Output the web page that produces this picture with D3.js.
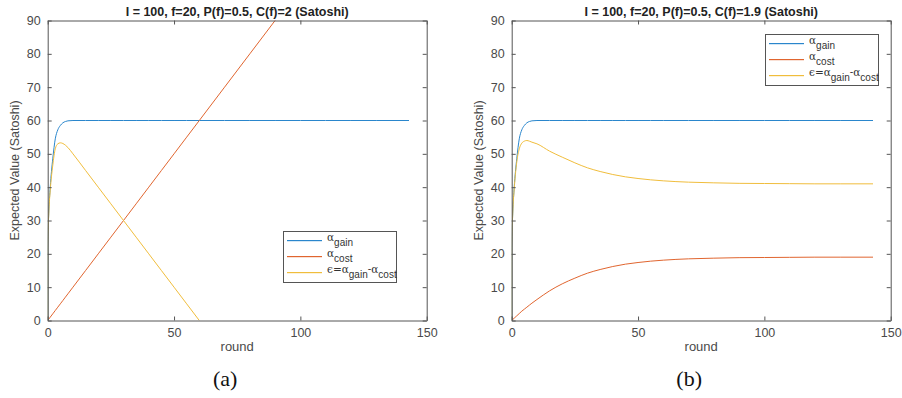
<!DOCTYPE html>
<html>
<head>
<meta charset="utf-8">
<script src="https://cdn.jsdelivr.net/npm/d3@7"></script>
<style>
  body { margin: 0; background: #fff; }
  svg { display: block; }
  text { font-family: "Liberation Sans", Arial, sans-serif; }
</style>
</head>
<body>
<svg id="chart" width="902" height="398"></svg>
<script>
var rounds = [0, 0.02, 0.4, 1, 2, 3, 4, 5, 6, 7, 8, 10, 15, 20, 25, 30, 35, 40, 45, 50,
              55, 60, 70, 80, 90, 100, 110, 120, 130, 143];

// panel (a): C(f)=2
var gainA = [0, 22, 32, 40, 48.5, 54.5, 57.2, 58.5, 59.3, 59.7, 59.9, 60, 60, 60, 60, 60, 60, 60, 60, 60,
             60, 60, 60, 60, 60, 60, 60, 60, 60, 60];
var costA = [0, 0.02, 0.4, 1, 2, 3, 4, 5, 6, 7, 8, 10, 15, 20, 25, 30, 35, 40, 45, 50,
             55, 60, 70, 80, 90, 100, 110, 120, 130, 143];
var epsA  = [0, 22, 31.6, 39, 46.5, 51.5, 53, 53.3, 53.1, 52.6, 51.9, 50, 45, 40, 35, 30, 25, 20, 15, 10,
             5, 0, null, null, null, null, null, null, null, null];

// panel (b): C(f)=1.9
var gainB = gainA;
var costB = [0, 0, 0.3, 0.7, 1.4, 2.1, 2.8, 3.4, 4.0, 4.6, 5.2, 6.3, 8.9, 11, 12.7, 14.2, 15.3, 16.2, 16.9, 17.4,
             17.8, 18.1, 18.5, 18.7, 18.85, 18.9, 18.95, 19, 19, 19];
var epsB  = [0, 22, 32, 39.5, 47.5, 51.5, 53.2, 53.8, 54, 53.8, 53.5, 53, 50.8, 49, 47.3, 45.8, 44.7, 43.8, 43.1, 42.6,
             42.2, 41.9, 41.5, 41.3, 41.15, 41.1, 41.05, 41, 41, 41];

var xTicks = [0, 50, 100, 150];
var yTicks = [0, 10, 20, 30, 40, 50, 60, 70, 80, 90];

var colors = {gain: "#2a86cc", cost: "#e0652f", eps: "#f0bd3c"};

var svg = d3.select("#chart");

function drawPanel(id, left, right, title, caption, series, legendPos) {
  var top = 20.5, bottom = 320.5;
  var g = svg.append("g");

  var x = d3.scaleLinear().domain([0, 150]).range([left, right]);
  var y = d3.scaleLinear().domain([0, 90]).range([bottom, top]);

  g.append("defs").append("clipPath").attr("id", "clip" + id)
    .append("rect").attr("x", left).attr("y", top)
    .attr("width", right - left).attr("height", bottom - top);

  // lines
  var line = d3.line()
      .defined(function(d) { return d[1] != null; })
      .x(function(d) { return x(d[0]); })
      .y(function(d) { return y(d[1]); })
      .curve(d3.curveMonotoneX);

  var plot = g.append("g").attr("clip-path", "url(#clip" + id + ")");
  series.forEach(function(s) {
    plot.append("path")
      .datum(rounds.map(function(r, i) { return [r, s.values[i]]; }))
      .attr("fill", "none")
      .attr("stroke", s.color)
      .attr("stroke-width", 1)
      .attr("d", line);
  });

  // axes (box with inward ticks on all sides)
  var axisColor = "#555";
  var xb = g.append("g").attr("transform", "translate(0," + bottom + ")")
    .call(d3.axisBottom(x).tickValues(xTicks).tickSizeInner(-4).tickSizeOuter(0).tickPadding(8));
  var xt = g.append("g").attr("transform", "translate(0," + top + ")")
    .call(d3.axisTop(x).tickValues(xTicks).tickSizeInner(-4).tickSizeOuter(0).tickFormat(""));
  var yl = g.append("g").attr("transform", "translate(" + left + ",0)")
    .call(d3.axisLeft(y).tickValues(yTicks).tickSizeInner(-4).tickSizeOuter(0).tickPadding(7));
  var yr = g.append("g").attr("transform", "translate(" + right + ",0)")
    .call(d3.axisRight(y).tickValues(yTicks).tickSizeInner(-4).tickSizeOuter(0).tickFormat(""));
  [xb, xt, yl, yr].forEach(function(a) {
    a.selectAll("path").attr("stroke", axisColor);
    a.selectAll("line").attr("stroke", axisColor);
    a.selectAll("text").attr("fill", "#4a4a4a").style("font-size", "12.5px")
      .style("font-family", "'Liberation Sans', Arial, sans-serif");
  });

  // title
  g.append("text").attr("x", (left + right) / 2).attr("y", 16)
    .attr("text-anchor", "middle").style("font-size", "12.5px").style("font-weight", "bold")
    .attr("fill", "#222").text(title);

  // axis labels
  g.append("text").attr("x", (left + right) / 2).attr("y", 351)
    .attr("text-anchor", "middle").style("font-size", "13px").attr("fill", "#4a4a4a").text("round");
  g.append("text")
    .attr("transform", "translate(" + (left - 29) + "," + ((top + bottom) / 2) + ") rotate(-90)")
    .attr("text-anchor", "middle").style("font-size", "12.5px").attr("fill", "#4a4a4a")
    .text("Expected Value (Satoshi)");

  // caption
  g.append("text").attr("x", (left + right) / 2 - 12).attr("y", 386)
    .attr("text-anchor", "middle").style("font-family", "'Liberation Serif', 'DejaVu Serif', serif")
    .style("font-size", "22px").attr("fill", "#111").text(caption);

  // legend
  var lg = g.append("g").attr("transform", "translate(" + legendPos[0] + "," + legendPos[1] + ")");
  lg.append("rect").attr("x", 0.5).attr("y", 0.5).attr("width", 113).attr("height", 51)
    .attr("fill", "#fff").attr("stroke", "#555").attr("stroke-width", 1);
  var labels = [
    [["\u03b1", 0], ["gain", 1]],
    [["\u03b1", 0], ["cost", 1]],
    [["\u03f5=\u03b1", 0], ["gain", 1], ["-\u03b1", 0], ["cost", 1]]
  ];
  series.forEach(function(s, i) {
    var ry = 9 + i * 16;
    lg.append("rect").attr("x", 4).attr("y", ry).attr("width", 35).attr("height", 1.2)
      .attr("fill", s.color);
    var t = lg.append("text").attr("x", 44).attr("y", ry + 1)
      .style("font-size", "10px").attr("fill", "#333");
    labels[i].forEach(function(p, k) {
      t.append("tspan").attr("dy", p[1] ? 5 : (k ? -5 : 0))
        .style("font-size", p[1] ? "10px" : "10.5px")
        .style("font-family", p[1] ? "'Liberation Sans', Arial, sans-serif" : "'DejaVu Serif', serif")
        .text(p[0]);
    });
  });
}

drawPanel("a", 47.7, 426.7, "I = 100, f=20, P(f)=0.5, C(f)=2 (Satoshi)", "(a)",
  [{values: gainA, color: colors.gain}, {values: costA, color: colors.cost}, {values: epsA, color: colors.eps}],
  [283, 231]);

drawPanel("b", 511.7, 890.7, "I = 100, f=20, P(f)=0.5, C(f)=1.9 (Satoshi)", "(b)",
  [{values: gainB, color: colors.gain}, {values: costB, color: colors.cost}, {values: epsB, color: colors.eps}],
  [765, 34]);
</script>
</body>
</html>
